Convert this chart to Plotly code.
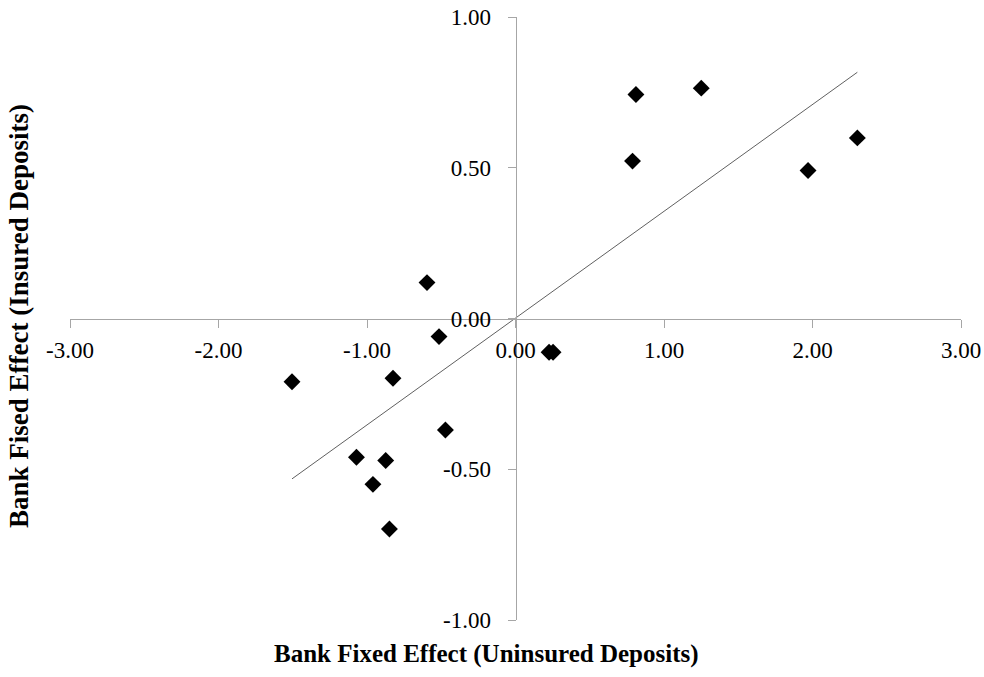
import numpy as np
import plotly.graph_objects as go

uninsured = [-1.505, -0.596, -0.515, -0.825, -0.472, -1.071, -0.874, -0.960, -0.849,
             0.226, 0.253, 0.788, 0.811, 1.251, 1.970, 2.302]
insured = [-0.210, 0.119, -0.060, -0.198, -0.370, -0.460, -0.471, -0.550, -0.698,
           -0.112, -0.112, 0.522, 0.743, 0.764, 0.491, 0.599]
x_ticks = [-3, -2, -1, 0, 1, 2, 3]
y_ticks = [-1, -0.5, 0, 0.5, 1]

xa = np.array(uninsured)
ya = np.array(insured)
slope, intercept = np.polyfit(xa, ya, 1)
line_x = [xa.min(), xa.max()]
line_y = [slope * v + intercept for v in line_x]

font = "Liberation Serif, Times New Roman, serif"

W, H = 984, 677
ML, MR, MT, MB = 70, 23, 17, 57

fig = go.Figure()
fig.add_trace(go.Scatter(x=line_x, y=line_y, mode="lines",
                         line=dict(color="#606060", width=1), hoverinfo="skip"))
fig.add_trace(go.Scatter(x=uninsured, y=insured, mode="markers",
                         marker=dict(symbol="diamond", size=13, color="black")))

fig.update_layout(
    width=W, height=H,
    margin=dict(l=ML, r=MR, t=MT, b=MB, autoexpand=False),
    plot_bgcolor="white", paper_bgcolor="white",
    showlegend=False,
    font=dict(family=font, size=23, color="black"),
    xaxis=dict(range=[-3, 3], tickvals=x_ticks,
               ticktext=[f"{v:.2f}" for v in x_ticks],
               anchor="free", position=0.5, automargin=False,
               showline=True, linecolor="#a6a6a6", linewidth=1,
               ticks="outside", ticklen=8, tickcolor="#a6a6a6",
               ticklabelstandoff=3,
               showgrid=False, zeroline=False),
    yaxis=dict(range=[-1, 1], tickvals=y_ticks,
               ticktext=[f"{v:.2f}" for v in y_ticks],
               anchor="free", position=0.5, automargin=False,
               showline=True, linecolor="#a6a6a6", linewidth=1,
               ticks="outside", ticklen=8, tickcolor="#a6a6a6",
               ticklabelstandoff=12,
               showgrid=False, zeroline=False),
)

# axis titles placed in pixel terms, converted to paper coordinates
pw = W - ML - MR
ph = H - MT - MB
titles = [
    ("<b>Bank Fixed Effect (Uninsured Deposits)</b>", 486, 654, 0, 25),
    ("<b>Bank Fised Effect (Insured Deposits)</b>", 19, 316, -90, 27),
]
for text, px, py, ang, fs in titles:
    fig.add_annotation(text=text, x=(px - ML) / pw, y=(H - MB - py) / ph,
                       xref="paper", yref="paper", showarrow=False,
                       xanchor="center", yanchor="middle",
                       textangle=ang, font=dict(family=font, size=fs))

fig.write_html("out.html")
